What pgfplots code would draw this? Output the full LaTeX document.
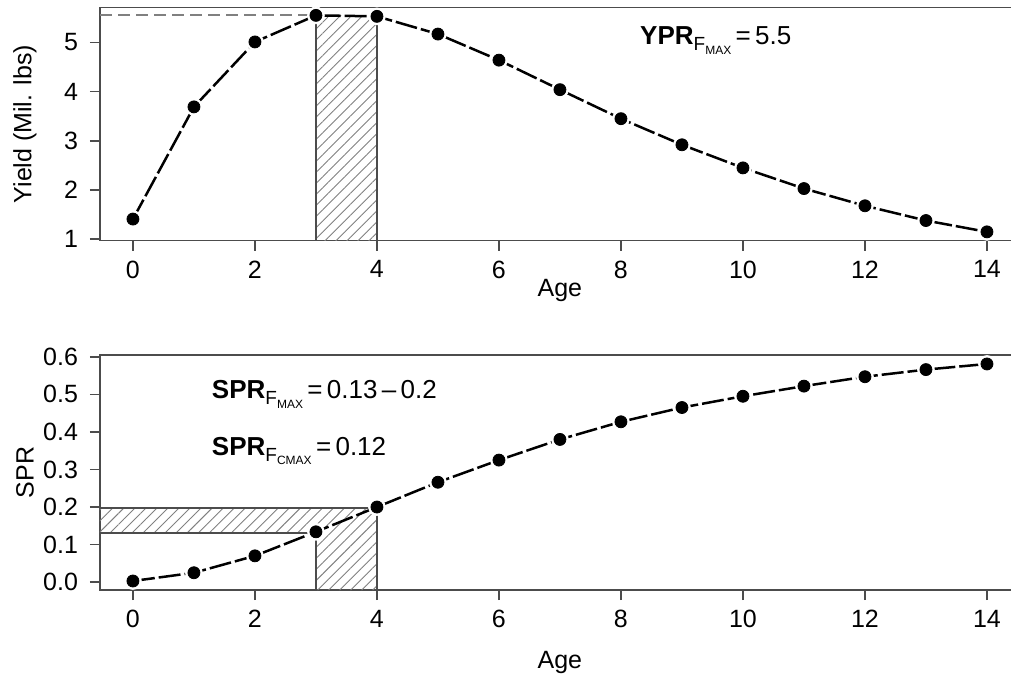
\documentclass[border=0pt]{standalone}
\usepackage{pgfplots}
\pgfplotsset{compat=1.18}
\usepackage{pgfplotstable}
\usepackage{fontspec}
\setmainfont{Liberation Sans}
\usetikzlibrary{patterns,patterns.meta}

\pgfplotstableread{
age yield
0 1.41
1 3.69
2 5.01
3 5.55
4 5.53
5 5.17
6 4.64
7 4.04
8 3.45
9 2.92
10 2.45
11 2.03
12 1.68
13 1.38
14 1.15
}\yieldtab

\pgfplotstableread{
age spr
0 0.003
1 0.025
2 0.070
3 0.134
4 0.200
5 0.266
6 0.325
7 0.380
8 0.427
9 0.465
10 0.495
11 0.522
12 0.547
13 0.566
14 0.581
}\sprtab

\newcommand{\sub}[1]{\raisebox{-0.45ex}{\fontsize{9.5}{9.5}\selectfont F\raisebox{-0.35ex}{\fontsize{6}{6}\selectfont #1}}}

\pgfplotsset{
  myaxis/.style={
    axis lines=box,
    axis line style={black!70, line width=0.75pt},
    every tick/.style={black!70, line width=0.75pt},
    tick align=outside,
    major tick length=5pt,
    xtick pos=bottom, ytick pos=left,
    x=30.5pt,
    xmin=-0.54, xmax=14.56,
    xtick={0,2,...,14},
    clip=false,
    /pgf/number format/assume math mode=true,
    tick label style={font=\fontsize{12.5}{14}\selectfont},
    label style={font=\fontsize{12.5}{14}\selectfont},
    yticklabel style={anchor=east, xshift=-2.5pt},
    xticklabel style={anchor=north, yshift=-1.5pt},
    ylabel style={at={(axis description cs:-0.0814,0.5)}, anchor=center},
  },
  curve/.style={black, line width=1.25pt, dash pattern=on 11pt off 2pt},
  halo/.style={only marks, white, mark=*, mark size=4.2pt, mark options={fill=white, draw=white}},
  dots/.style={only marks, black, mark=*, mark size=3pt, mark options={fill=black, draw=black}},
  hatch/.style={draw=none, pattern={Lines[angle=45, distance=3.9pt, line width=0.45pt]}, pattern color=gray},
}

\begin{document}
\begin{tikzpicture}
% ---------- top panel ----------
\begin{axis}[myaxis,
  at={(50pt,-120.35pt)}, anchor=south west,
  y=24.6pt, ymin=0.97, ymax=5.71,
  ytick={1,2,3,4,5},
  xlabel={Age},
  xlabel style={at={(axis description cs:0.4993,-0.214)}, anchor=center},
  ylabel={Yield (Mil. lbs)},
]
\addplot[hatch] coordinates {(3,0.97) (4,0.97) (4,5.55) (3,5.55)} -- cycle;
\addplot[black!70, line width=0.75pt] coordinates {(3,0.97) (3,5.71)};
\addplot[black!70, line width=0.75pt] coordinates {(4,0.97) (4,5.53)};
\addplot[gray, line width=0.9pt, dash pattern=on 6pt off 3pt] coordinates {(-0.54,5.55) (3,5.55)};
\addplot[curve] table[x=age, y=yield] {\yieldtab};
\addplot[halo] table[x=age, y=yield] {\yieldtab};
\addplot[dots] table[x=age, y=yield] {\yieldtab};
\node[anchor=base west, font=\fontsize{13}{15}\selectfont] at (axis cs:8.2,4.96) {\textbf{YPR}\sub{MAX}\,=\,5.5};
\end{axis}

% ---------- bottom panel ----------
\begin{axis}[myaxis,
  at={(50pt,-295pt)}, anchor=south west,
  y=187.75pt, ymin=-0.021, ymax=0.605,
  ytick={0,0.1,...,0.6},
  yticklabel style={/pgf/number format/.cd, fixed, fixed zerofill, precision=1},
  xlabel={Age},
  xlabel style={at={(axis description cs:0.4993,-0.307)}, anchor=center},
  ylabel={SPR},
]
\addplot[hatch] coordinates {(-0.54,0.131) (3,0.131) (3,-0.021) (4,-0.021) (4,0.197) (-0.54,0.197)} -- cycle;
\addplot[black!70, line width=0.75pt] coordinates {(-0.54,0.197) (4,0.197) (4,-0.021)};
\addplot[black!70, line width=0.75pt] coordinates {(-0.54,0.131) (3,0.131) (3,-0.021)};
\addplot[curve] table[x=age, y=spr] {\sprtab};
\addplot[halo] table[x=age, y=spr] {\sprtab};
\addplot[dots] table[x=age, y=spr] {\sprtab};
\node[anchor=base west, font=\fontsize{13}{15}\selectfont] at (axis cs:1.18,0.489) {\textbf{SPR}\sub{MAX}\,=\,0.13\,--\,0.2};
\node[anchor=base west, font=\fontsize{13}{15}\selectfont] at (axis cs:1.18,0.338) {\textbf{SPR}\sub{CMAX}\,=\,0.12};
\end{axis}
\pgfresetboundingbox
\path[use as bounding box] (0,0) rectangle (505.5pt,-338pt);
\end{tikzpicture}
\end{document}
